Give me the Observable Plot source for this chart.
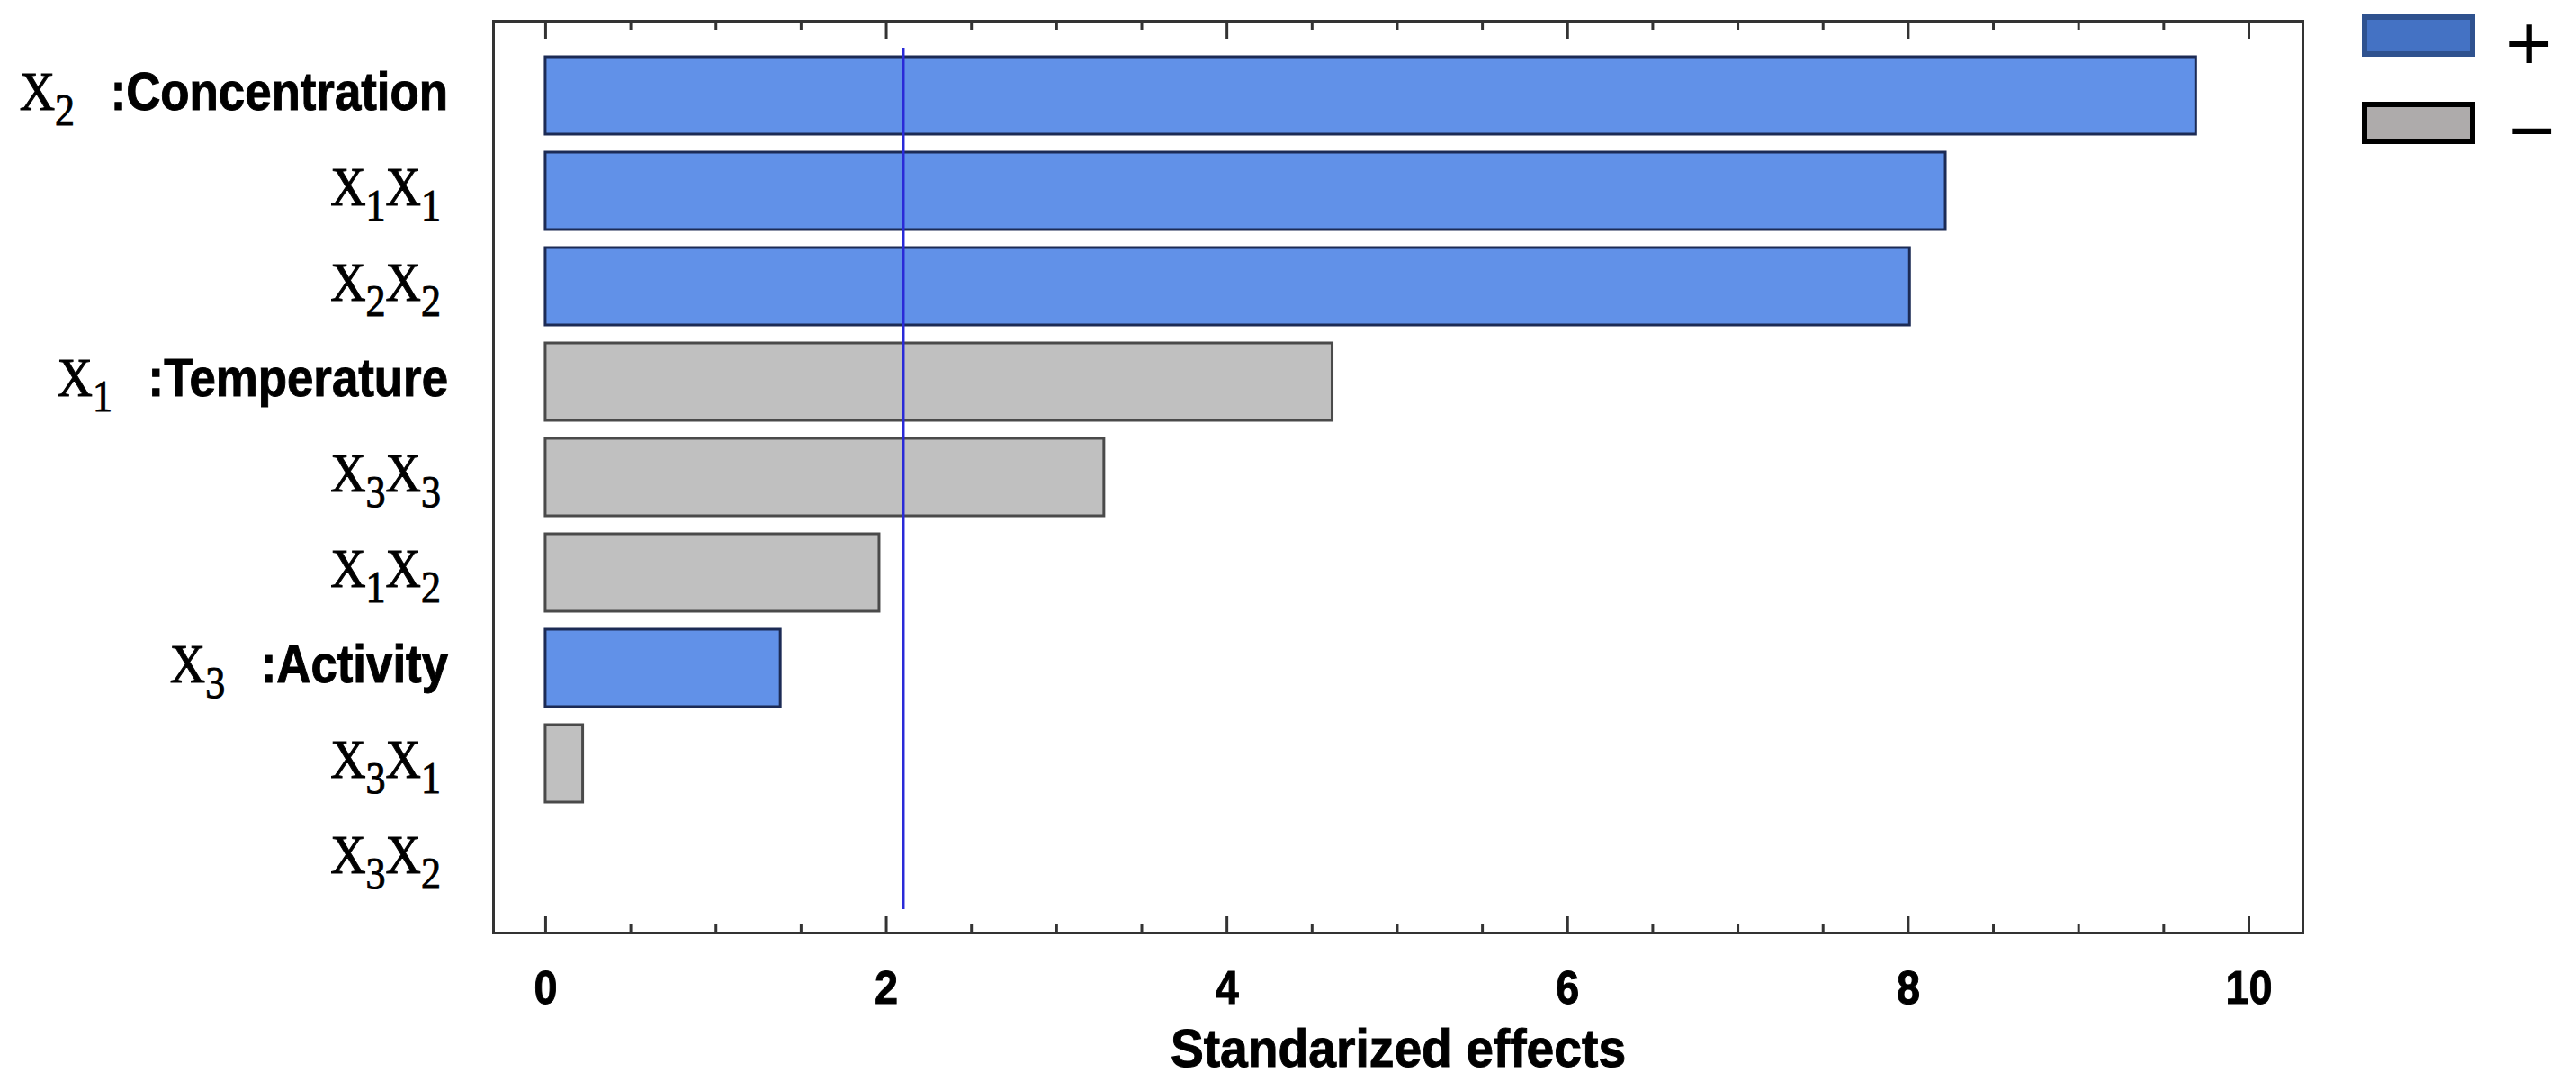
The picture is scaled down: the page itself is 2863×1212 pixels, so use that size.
<!DOCTYPE html>
<html>
<head>
<meta charset="utf-8">
<script src="https://cdn.jsdelivr.net/npm/d3@7"></script>
<script src="https://cdn.jsdelivr.net/npm/@observablehq/plot@0.6"></script>
<style>
  html, body { margin: 0; padding: 0; background: #fff; }
  #wrap { position: relative; width: 2863px; height: 1212px; }
  .lg-box { position: absolute; box-sizing: border-box; width: 126px; height: 47px; }
  .lg-txt { position: absolute; font-family: "Liberation Sans", Arial, sans-serif; font-size: 88px; line-height: 1; color: #000; }
</style>
</head>
<body>
<div id="wrap"></div>
<script>
// ---- data ----
const terms   = ["X_2 :Concentration", "X_1X_1", "X_2X_2", "X_1 :Temperature", "X_3X_3", "X_1X_2", "X_3 :Activity", "X_3X_1", "X_3X_2"];
const effects = [9.69, 8.22, 8.01, 4.62, 3.28, 1.96, 1.38, 0.22, 0];
const signs   = ["+", "+", "+", "−", "−", "−", "+", "−", "−"];
const criticalValue = 2.1;
const majorTicks = [0, 2, 4, 6, 8, 10];
const minorTicks = [0.5, 1, 1.5, 2.5, 3, 3.5, 4.5, 5, 5.5, 6.5, 7, 7.5, 8.5, 9, 9.5];
const legendItems = ["+", "−"];
const xLabel = "Standarized effects";

const rows = terms.map((t, i) => ({term: t, effect: effects[i], sign: signs[i]}));

const W = 2863, H = 1212;
const mTop = 23, mBottom = 176, mLeft = 548, mRight = 304;
const frameH = H - mTop - mBottom;

const sans = '"Liberation Sans", Arial, Helvetica, sans-serif';
const serif = '"Liberation Serif", "Times New Roman", serif';

const chart = Plot.plot({
  width: W,
  height: H,
  marginTop: mTop,
  marginBottom: mBottom,
  marginLeft: mLeft,
  marginRight: mRight,
  style: {fontFamily: sans, fontWeight: "bold", fontSize: "52px", color: "#000", background: "#fff"},
  x: {domain: [-0.306, 10.317], axis: null},
  y: {domain: terms, type: "band", paddingInner: 0.19, paddingOuter: 0.36, axis: null},
  marks: [
    Plot.barX(rows.filter(d => d.effect > 0 && d.sign === "+"), {
      x1: 0, x2: "effect", y: "term", fill: "#6191E8", stroke: "#1C2B55", strokeWidth: 3
    }),
    Plot.barX(rows.filter(d => d.effect > 0 && d.sign === "−"), {
      x1: 0, x2: "effect", y: "term", fill: "#C0C0C0", stroke: "#4A4A4A", strokeWidth: 3
    }),
    Plot.ruleX([criticalValue], {x: d => d, stroke: "#2A2AD8", strokeWidth: 3, insetTop: 30, insetBottom: 26}),
    // inward ticks (bottom and top)
    Plot.tickX(majorTicks, {x: d => d, stroke: "#333", strokeWidth: 3, insetTop: frameH - 18}),
    Plot.tickX(minorTicks, {x: d => d, stroke: "#333", strokeWidth: 3, insetTop: frameH - 9}),
    Plot.tickX(majorTicks, {x: d => d, stroke: "#333", strokeWidth: 3, insetBottom: frameH - 20}),
    Plot.tickX(minorTicks, {x: d => d, stroke: "#333", strokeWidth: 3, insetBottom: frameH - 10}),
    Plot.frame({stroke: "#333", strokeWidth: 3}),
    Plot.axisX(majorTicks, {anchor: "bottom", tickSize: 0, tickPadding: 42, label: null, fontSize: 52, fontWeight: "bold", fontFamily: sans, tickFormat: d => String(d)}),
    Plot.text([xLabel], {frameAnchor: "bottom", dy: 148, lineAnchor: "bottom", text: d => d, fontSize: 60, fontWeight: "bold", fontFamily: sans}),
    Plot.text(terms, {y: d => d, frameAnchor: "left", dx: -50, textAnchor: "end", text: d => d})
  ]
});

document.getElementById("wrap").appendChild(chart);

function condense(el, factor) {
  const len = el.getComputedTextLength();
  if (len > 0) {
    el.setAttribute("textLength", (len * factor).toFixed(1));
    el.setAttribute("lengthAdjust", "spacingAndGlyphs");
  }
}
function embolden(el, w) {
  el.setAttribute("stroke", "#000");
  el.setAttribute("stroke-width", w);
  el.setAttribute("paint-order", "stroke");
}

// rich formatting of the term labels: serif X with subscripts + bold sans names
const NS = "http://www.w3.org/2000/svg";
function ts(parent, txt, attrs) {
  const t = document.createElementNS(NS, "tspan");
  for (const k in attrs) t.setAttribute(k, attrs[k]);
  t.textContent = txt;
  parent.appendChild(t);
  return t;
}
const yScale = chart.scale("y");
const labelScale = 0.88;
const labelX = mLeft - 50;
const labelLayer = document.createElementNS(NS, "g");
labelLayer.setAttribute("aria-label", "term labels");
chart.appendChild(labelLayer);
chart.querySelectorAll("text").forEach(el => {
  const label = el.textContent;
  if (!terms.includes(label)) return;
  const yc = yScale.apply(label) + yScale.bandwidth / 2;
  const [sym, name] = label.split(" ");
  const parts = sym.match(/X_\d/g);
  const g = document.createElementNS(NS, "g");
  g.setAttribute("transform", `translate(${labelX + (name ? 0 : -8)},${yc + 16}) scale(${labelScale},1)`);
  const t = document.createElementNS(NS, "text");
  t.setAttribute("text-anchor", "end");
  t.setAttribute("fill", "#000");
  let shift = 0;
  parts.forEach(p => {
    ts(t, "X", {"font-family": serif, "font-size": 62, "font-weight": "normal", dy: -shift});
    ts(t, p[2], {"font-family": serif, "font-size": 50, "font-weight": "normal", dy: 17});
    shift = 17;
  });
  if (name) {
    ts(t, name, {"font-family": sans, "font-size": 60, "font-weight": "bold", dx: 45, dy: -shift});
  }
  embolden(t, 1);
  g.appendChild(t);
  labelLayer.appendChild(g);
  el.remove();
});

// condensed bold look for axis tick labels and title
chart.querySelectorAll("text").forEach(el => {
  const t = el.textContent;
  if (majorTicks.map(String).includes(t)) { condense(el, 0.9); embolden(el, 1); }
  else if (t === xLabel) { condense(el, 0.92); embolden(el, 1); }
});

// legend
const wrap = document.getElementById("wrap");
const legendStyles = [
  {bg: "#4472C4", border: "#2F528F", top: 16},
  {bg: "#AEABAB", border: "#000000", top: 113}
];
legendItems.forEach((s, i) => {
  const st = legendStyles[i];
  const box = document.createElement("div");
  box.className = "lg-box";
  box.style.left = "2625px";
  box.style.top = st.top + "px";
  box.style.background = st.bg;
  box.style.border = "6px solid " + st.border;
  wrap.appendChild(box);
  const t = document.createElement("div");
  t.className = "lg-txt";
  t.textContent = s;
  t.style.left = (i === 0 ? 2785 : 2788) + "px";
  t.style.top = (st.top - 12) + "px";
  wrap.appendChild(t);
});
</script>
</body>
</html>
